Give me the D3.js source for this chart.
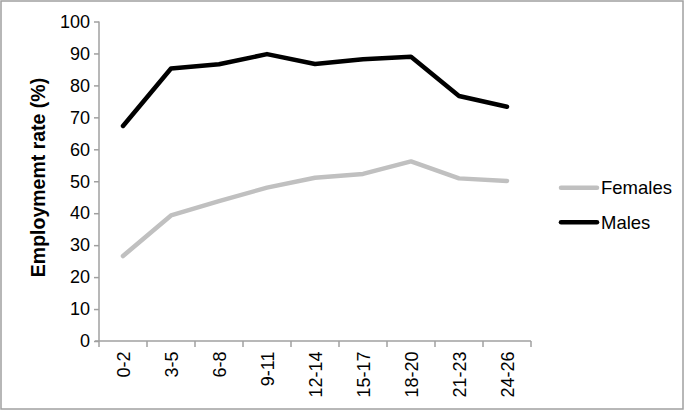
<!DOCTYPE html>
<html><head><meta charset="utf-8">
<script src="https://cdn.jsdelivr.net/npm/d3@7"></script>
<style>body{margin:0;background:#fff}svg{display:block}text{font-family:Arial,"Liberation Sans",sans-serif}</style>
</head><body><svg id="c" width="685" height="411"></svg>
<script>
const categories = ["0-2","3-5","6-8","9-11","12-14","15-17","18-20","21-23","24-26"];
const females = [26.6, 39.3, 43.8, 48.0, 51.1, 52.3, 56.2, 50.9, 50.1];
const males = [67.3, 85.3, 86.6, 89.8, 86.7, 88.2, 89.0, 76.7, 73.3];
const yTicks = [0,10,20,30,40,50,60,70,80,90,100];
const seriesNames = ["Females","Males"];
const seriesColors = ["#c0c0c0","#000000"];

const svg = d3.select("#c");
svg.append("rect").attr("x",1).attr("y",1).attr("width",682).attr("height",408)
  .attr("fill","#fff").attr("stroke","#a0a0a0").attr("stroke-width",1.5);

const x = d3.scaleBand().domain(categories).range([99,531]);
const y = d3.scaleLinear().domain([0,100]).range([341,21.5]);
const axisColor = "#a0a0a0";

const gy = svg.append("g").attr("transform","translate(99,0)")
  .call(d3.axisLeft(y).tickValues(yTicks).tickSize(5).tickPadding(4));
gy.selectAll("path,line").attr("stroke",axisColor).attr("stroke-width",1.5);
gy.select(".domain").attr("d","M0,21.5V341");
gy.selectAll("text").attr("font-size",18).attr("fill","#000").attr("font-family","Arial, 'Liberation Sans', sans-serif");

const gx = svg.append("g").attr("transform","translate(0,341)");
gx.append("line").attr("x1",95).attr("x2",531).attr("stroke",axisColor).attr("stroke-width",1.5);
const edges = categories.map(c=>x(c)).concat([x.range()[1]]);
gx.selectAll("line.t").data(edges).enter().append("line").attr("class","t")
  .attr("x1",d=>d).attr("x2",d=>d).attr("y1",0).attr("y2",6)
  .attr("stroke",axisColor).attr("stroke-width",1.5);
gx.selectAll("text").data(categories).enter().append("text")
  .attr("transform",d=>`translate(${x(d)+x.bandwidth()/2+6.5},10.5) rotate(-90)`)
  .attr("text-anchor","end").attr("font-size",18).attr("fill","#000").text(d=>d);

svg.append("text").attr("transform","translate(45,177.5) rotate(-90)")
  .attr("text-anchor","middle").attr("font-size",19.5).attr("font-weight","bold")
  .text("Employmemt rate (%)");

const line = d3.line().x((d,i)=>x(categories[i])+x.bandwidth()/2).y(d=>y(d));
[females, males].forEach((s,i)=>{
  svg.append("path").datum(s).attr("d",line).attr("fill","none")
    .attr("stroke",seriesColors[i]).attr("stroke-width",4.5)
    .attr("stroke-linejoin","round").attr("stroke-linecap","round");
});

const lg = svg.append("g");
seriesNames.forEach((n,i)=>{
  const yy = 187.7 + i*34.6;
  lg.append("line").attr("x1",561).attr("x2",597).attr("y1",yy).attr("y2",yy)
    .attr("stroke",seriesColors[i]).attr("stroke-width",4.5).attr("stroke-linecap","round");
  lg.append("text").attr("x",601).attr("y",yy+6.5).attr("font-size",18.5).text(n);
});
</script></body></html>
